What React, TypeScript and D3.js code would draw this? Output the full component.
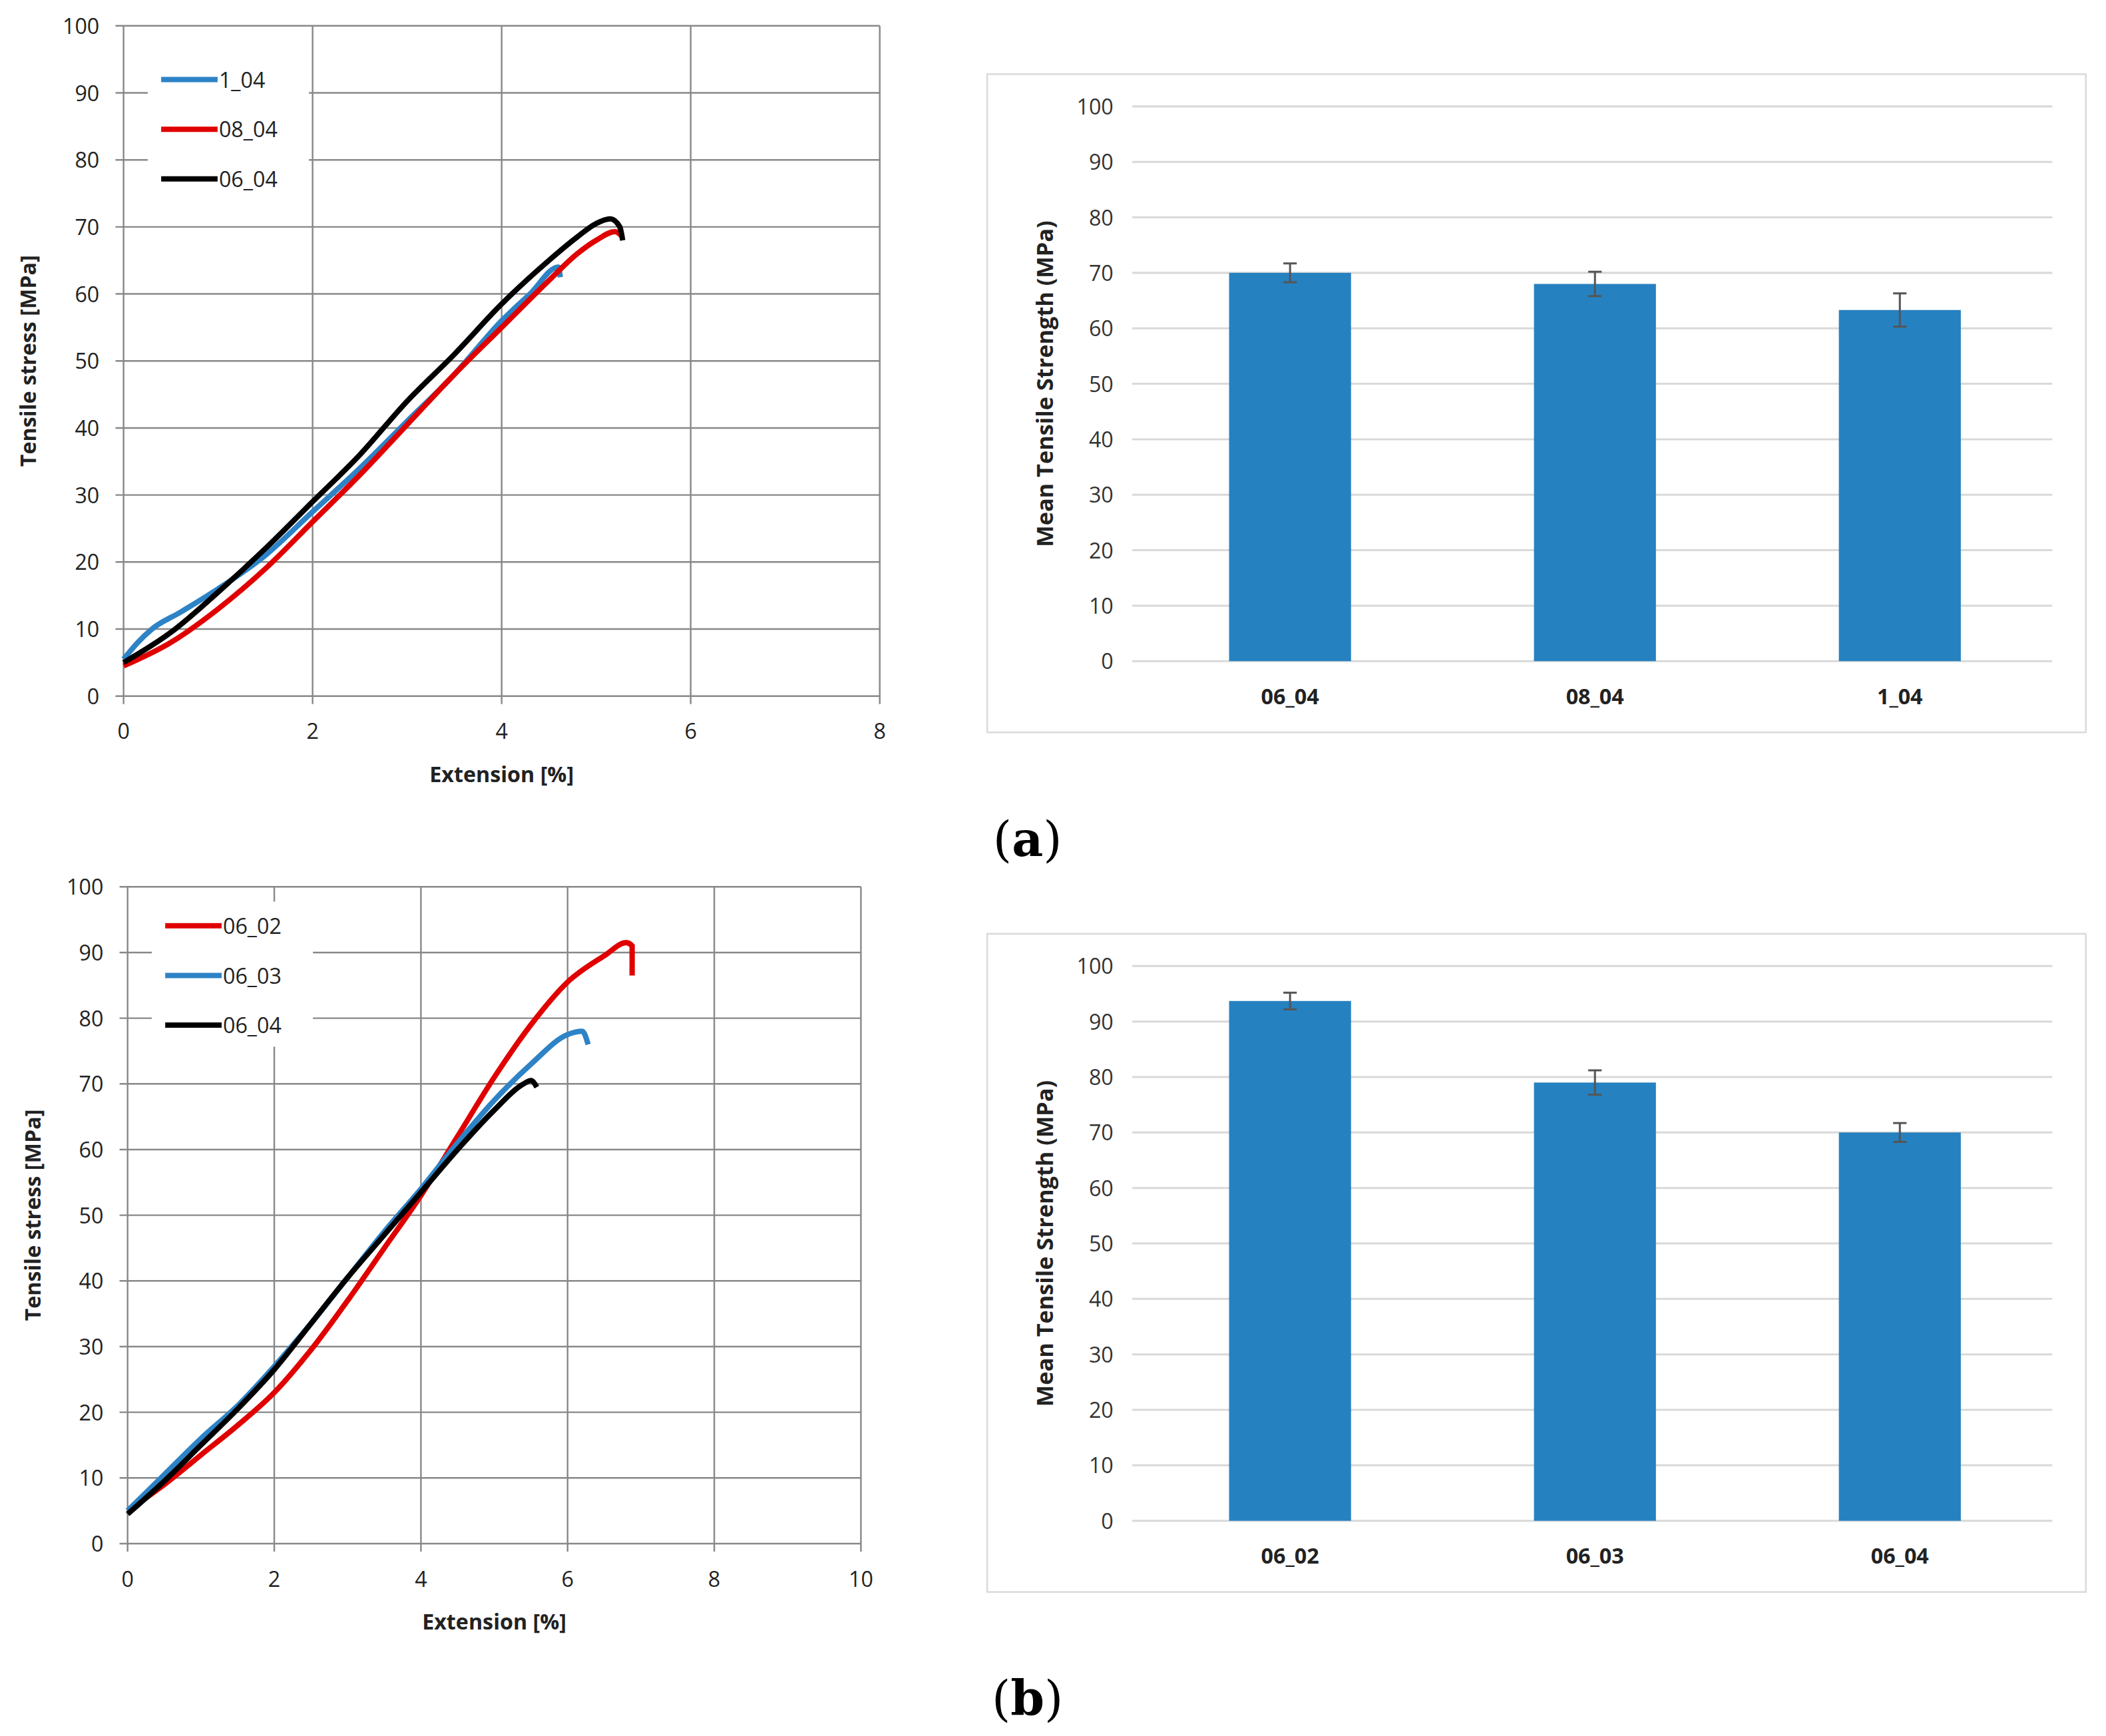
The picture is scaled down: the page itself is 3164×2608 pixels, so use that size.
import * as d3 from "d3";

type Pt = [number, number];

// panel (a) stress-strain curves
const curveA_104: Pt[] = [[0,5.5],[0.15,8],[0.3,10],[0.6,12.5],[1,16],[1.5,21],[2,27.5],[2.5,34],[3,41],[3.5,48],[4,56],[4.3,60],[4.6,64],[4.62,62.5]];
const curveA_0804: Pt[] = [[0,4.5],[0.5,8],[1,13],[1.5,19],[2,26],[2.5,33],[3,40.5],[3.5,48],[4,55],[4.5,62],[4.8,66],[5,68],[5.2,69.3],[5.28,68.5]];
const curveA_0604: Pt[] = [[0,5],[0.5,9.5],[1,15.5],[1.5,22],[2,29],[2.5,36],[3,44],[3.5,51],[4,58.5],[4.5,65],[4.8,68.5],[5,70.5],[5.15,71.2],[5.25,70],[5.28,68]];
// panel (b)
const curveB_0602: Pt[] = [[0,5],[0.5,9],[1,13.5],[1.5,18],[2,23],[2.5,29.5],[3,37],[3.5,45],[4,53],[4.5,62],[5,71],[5.5,79],[6,85.5],[6.5,89.5],[6.8,91.5],[6.88,91],[6.88,86.5]];
const curveB_0603: Pt[] = [[0,5],[0.5,10.5],[1,16],[1.5,21],[2,27],[2.5,33.5],[3,40.5],[3.5,47.5],[4,54],[4.5,61],[5,67.5],[5.5,73],[6,77.5],[6.2,78],[6.28,76]];
const curveB_0604: Pt[] = [[0,4.5],[0.5,9.5],[1,15],[1.5,20.5],[2,26.5],[2.5,33.5],[3,40.5],[3.5,47],[4,53.5],[4.5,60],[5,66],[5.4,70],[5.5,70.5],[5.58,69.5]];

const barCatsA = ["06_04", "08_04", "1_04"];
const barMeansA = [70, 68, 63.3];
const barErrA = [1.7, 2.2, 3];
const barCatsB = ["06_02", "06_03", "06_04"];
const barMeansB = [93.7, 79, 70];
const barErrB = [1.5, 2.2, 1.7];

const BLUE = "#2d83c6";
const RED = "#e00000";
const FONT = "'Open Sans', 'Noto Sans', sans-serif";

function LineChart({ x0, x1, y0, y1, xMax, series, legendY }: {
  x0: number; x1: number; y0: number; y1: number; xMax: number;
  series: { name: string; color: string; data: Pt[] }[]; legendY: number;
}) {
  const x = d3.scaleLinear().domain([0, xMax]).range([x0, x1]);
  const y = d3.scaleLinear().domain([0, 100]).range([y1, y0]);
  const line = d3.line<Pt>().x(d => x(d[0])).y(d => y(d[1])).curve(d3.curveMonotoneX);
  const xt = d3.range(0, xMax + 1, 2);
  const yt = d3.range(0, 101, 10);
  return (
    <g fontFamily={FONT}>
      {yt.map(t => <line key={"y" + t} x1={x0 - 6} x2={x1} y1={y(t)} y2={y(t)} stroke="#888" strokeWidth={1.2} />)}
      {xt.map(t => <line key={"x" + t} x1={x(t)} x2={x(t)} y1={y0} y2={y1 + 6} stroke="#888" strokeWidth={1.2} />)}
      {yt.map(t => <text key={"yl" + t} x={x0 - 18} y={y(t) + 6} textAnchor="end" fontSize={16} fill="#222">{t}</text>)}
      {xt.map(t => <text key={"xl" + t} x={x(t)} y={y1 + 32} textAnchor="middle" fontSize={16} fill="#222">{t}</text>)}
      <rect x={x0 + 18} y={legendY - 18} width={120} height={108} fill="white" />
      {series.map(s => <path key={s.name} d={line(s.data) ?? ""} fill="none" stroke={s.color} strokeWidth={4} />)}
      {series.map((s, i) => (
        <g key={"lg" + s.name}>
          <line x1={x0 + 28} x2={x0 + 70} y1={legendY + i * 37} y2={legendY + i * 37} stroke={s.color} strokeWidth={4} />
          <text x={x0 + 71} y={legendY + i * 37 + 6} fontSize={16} fill="#222">{s.name}</text>
        </g>
      ))}
      <text x={(x0 + x1) / 2} y={y1 + 64} textAnchor="middle" fontSize={16} fontWeight="bold" fill="#222">Extension [%]</text>
      <text transform={`translate(${x0 - 65},${(y0 + y1) / 2}) rotate(-90)`} textAnchor="middle" fontSize={16} fontWeight="bold" fill="#222">Tensile stress [MPa]</text>
    </g>
  );
}

function BarChart({ top, cats, means, errs }: { top: number; cats: string[]; means: number[]; errs: number[] }) {
  const bx0 = 735, bx1 = 1553;
  const y0 = top + 24, y1 = top + 437;
  const x = d3.scaleBand().domain(cats).range([847, 1528]).paddingInner(0.6).paddingOuter(0.3);
  const y = d3.scaleLinear().domain([0, 100]).range([y1, y0]);
  const yt = d3.range(0, 101, 10);
  return (
    <g fontFamily={FONT}>
      <rect x={bx0} y={top} width={bx1 - bx0} height={490} fill="white" stroke="#d9d9d9" strokeWidth={1.2} />
      {yt.map(t => <line key={t} x1={843} x2={1528} y1={y(t)} y2={y(t)} stroke="#d9d9d9" strokeWidth={1.5} />)}
      {yt.map(t => <text key={"l" + t} x={829} y={y(t) + 6} textAnchor="end" fontSize={16} fill="#333">{t}</text>)}
      {cats.map((c, i) => {
        const cx = x(c)! + x.bandwidth() / 2;
        return (
          <g key={c}>
            <rect x={x(c)} y={y(means[i])} width={x.bandwidth()} height={y(0) - y(means[i])} fill="#2681c1" />
            <line x1={cx} x2={cx} y1={y(means[i] - errs[i])} y2={y(means[i] + errs[i])} stroke="#555" strokeWidth={1.5} />
            <line x1={cx - 5} x2={cx + 5} y1={y(means[i] - errs[i])} y2={y(means[i] - errs[i])} stroke="#555" strokeWidth={1.5} />
            <line x1={cx - 5} x2={cx + 5} y1={y(means[i] + errs[i])} y2={y(means[i] + errs[i])} stroke="#555" strokeWidth={1.5} />
            <text x={cx} y={y1 + 32} textAnchor="middle" fontSize={16} fontWeight="bold" fill="#222">{c}</text>
          </g>
        );
      })}
      <text transform={`translate(784,${(y0 + y1) / 2}) rotate(-90)`} textAnchor="middle" fontSize={17} fontWeight="bold" fill="#222">Mean Tensile Strength (MPa)</text>
    </g>
  );
}

export default function App() {
  return (
    <svg width={3164} height={2608} viewBox="0 0 1568 1292" style={{ display: "block", margin: -8, background: "white" }}>
      <rect width={1568} height={1292} fill="white" />
      <LineChart x0={92} x1={655} y0={19} y1={518} xMax={8} legendY={59}
        series={[
          { name: "1_04", color: BLUE, data: curveA_104 },
          { name: "08_04", color: RED, data: curveA_0804 },
          { name: "06_04", color: "#000", data: curveA_0604 },
        ]} />
      <BarChart top={55} cats={barCatsA} means={barMeansA} errs={barErrA} />
      <LineChart x0={95} x1={641} y0={660} y1={1149} xMax={10} legendY={689}
        series={[
          { name: "06_02", color: RED, data: curveB_0602 },
          { name: "06_03", color: BLUE, data: curveB_0603 },
          { name: "06_04", color: "#000", data: curveB_0604 },
        ]} />
      <BarChart top={695} cats={barCatsB} means={barMeansB} errs={barErrB} />
      <text x={765} y={637} textAnchor="middle" fontSize={36} fontFamily="'DejaVu Serif', serif">(<tspan fontWeight="bold">a</tspan>)</text>
      <text x={765} y={1277} textAnchor="middle" fontSize={36} fontFamily="'DejaVu Serif', serif">(<tspan fontWeight="bold">b</tspan>)</text>
    </svg>
  );
}
